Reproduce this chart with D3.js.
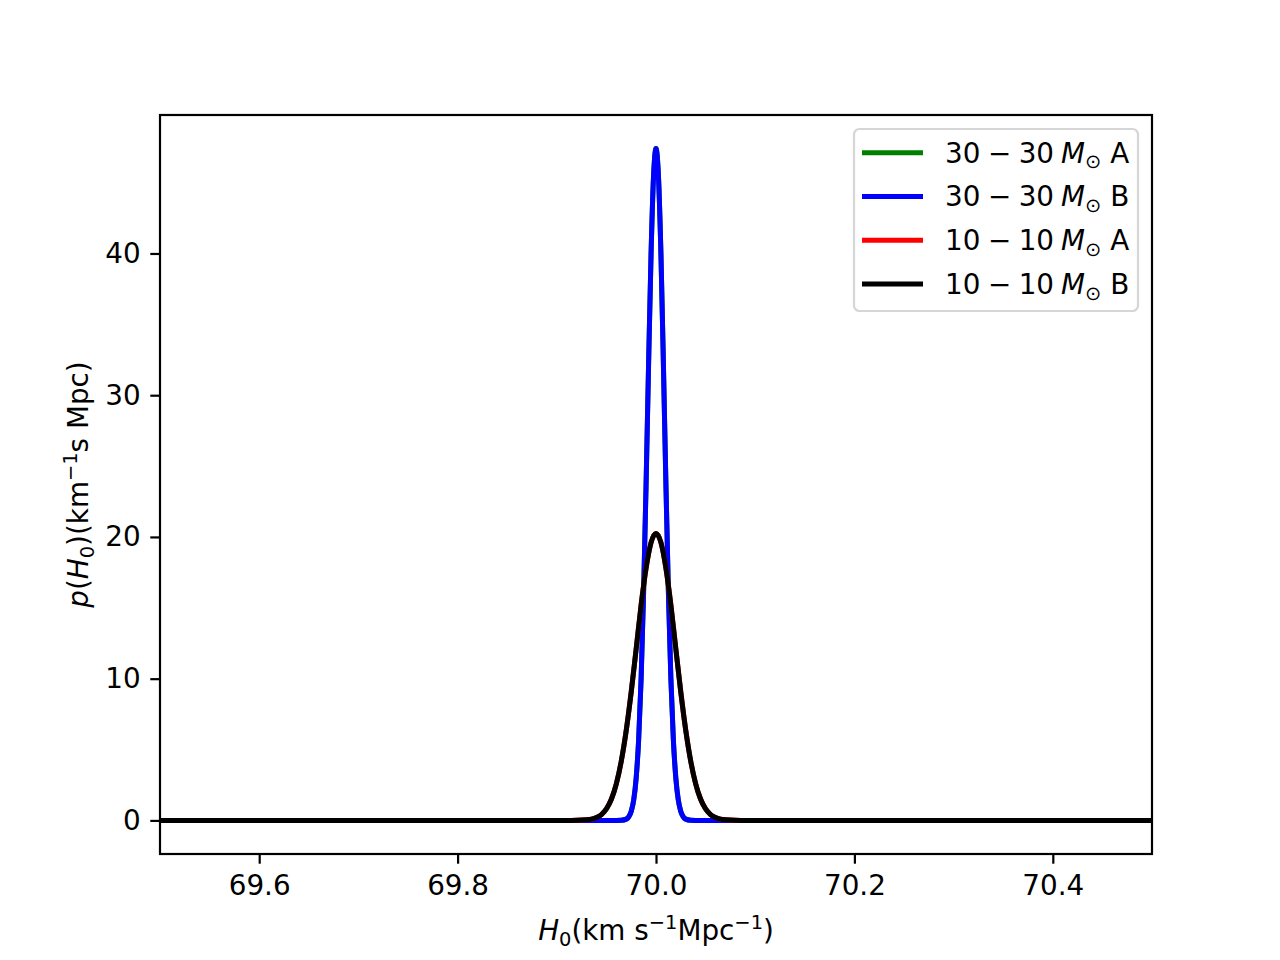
<!DOCTYPE html>
<html>
<head>
<meta charset="utf-8">
<script src="https://cdn.jsdelivr.net/npm/d3@7"></script>
<style>
  body { margin: 0; background: #fff; }
  svg { display: block; }
</style>
</head>
<body>
<script>
// values (A and B sit exactly on top of each other)
const h0Grid30 = [69.5, 69.96, 69.965, 69.97, 69.9725, 69.975, 69.9775, 69.98, 69.9825, 69.985, 69.9875,
  69.99, 69.9925, 69.995, 69.9975, 70.0, 70.0025, 70.005, 70.0075, 70.01, 70.0125, 70.015, 70.0175,
  70.02, 70.0225, 70.025, 70.0275, 70.03, 70.035, 70.04, 70.5];
const p30A = [0, 0, 0.01, 0.09, 0.25, 0.63, 1.43, 2.98, 5.69, 10.0, 16.1,
  23.7, 32.1, 39.9, 45.4, 47.4, 45.4, 39.9, 32.1, 23.7, 16.1, 10.0, 5.69,
  2.98, 1.43, 0.63, 0.25, 0.09, 0.01, 0, 0];
const p30B = [0, 0, 0.01, 0.09, 0.25, 0.63, 1.43, 2.98, 5.69, 10.0, 16.1,
  23.7, 32.1, 39.9, 45.4, 47.4, 45.4, 39.9, 32.1, 23.7, 16.1, 10.0, 5.69,
  2.98, 1.43, 0.63, 0.25, 0.09, 0.01, 0, 0];

const h0Grid10 = [69.5, 69.91, 69.92, 69.93, 69.935, 69.94, 69.945, 69.95, 69.955, 69.96, 69.965, 69.97,
  69.975, 69.98, 69.985, 69.99, 69.995, 70.0, 70.005, 70.01, 70.015, 70.02, 70.025, 70.03, 70.035,
  70.04, 70.045, 70.05, 70.055, 70.06, 70.065, 70.07, 70.08, 70.09, 70.5];
const p10A = [0, 0, 0.005, 0.04, 0.09, 0.20, 0.41, 0.81, 1.49, 2.58, 4.18, 6.35,
  9.05, 12.1, 15.2, 17.8, 19.6, 20.25, 19.6, 17.8, 15.2, 12.1, 9.05, 6.35, 4.18,
  2.58, 1.49, 0.81, 0.41, 0.20, 0.09, 0.04, 0.005, 0, 0];
const p10B = [0, 0, 0.005, 0.04, 0.09, 0.20, 0.41, 0.81, 1.49, 2.58, 4.18, 6.35,
  9.05, 12.1, 15.2, 17.8, 19.6, 20.25, 19.6, 17.8, 15.2, 12.1, 9.05, 6.35, 4.18,
  2.58, 1.49, 0.81, 0.41, 0.20, 0.09, 0.04, 0.005, 0, 0];

const legendMassLo = ["30", "30", "10", "10"];
const legendMassHi = ["30", "30", "10", "10"];
const legendRun = ["A", "B", "A", "B"];
const lineColors = ["green", "blue", "red", "black"];

const xTicks = [69.6, 69.8, 70.0, 70.2, 70.4];
const yTicks = [0, 10, 20, 30, 40];

const width = 1280, height = 960;
const plotLeft = 160, plotRight = 1152, plotTop = 115, plotBottom = 854;
const fs = 27.8;
const lw = 5;
const font = "'DejaVu Sans', sans-serif";

const series = [
  { x: h0Grid30, y: p30A },
  { x: h0Grid30, y: p30B },
  { x: h0Grid10, y: p10A },
  { x: h0Grid10, y: p10B }
];

// matplotlib-style 5% margin on y
const allY = series.flatMap(s => s.y);
const yMin = d3.min(allY), yMax = d3.max(allY);
const pad = (yMax - yMin) * 0.05;

const x = d3.scaleLinear().domain([69.5, 70.5]).range([plotLeft, plotRight]);
const y = d3.scaleLinear().domain([yMin - pad, yMax + pad]).range([plotBottom, plotTop]);

const svg = d3.select("body").append("svg")
    .attr("width", width)
    .attr("height", height)
    .style("font-family", font);

svg.append("defs").append("clipPath")
    .attr("id", "plot-clip")
    .append("rect")
    .attr("x", plotLeft).attr("y", plotTop)
    .attr("width", plotRight - plotLeft).attr("height", plotBottom - plotTop);

const line = d3.line()
    .x(d => x(d[0]))
    .y(d => y(d[1]))
    .curve(d3.curveMonotoneX);

svg.append("g")
    .attr("clip-path", "url(#plot-clip)")
    .selectAll("path")
    .data(series)
    .join("path")
    .attr("fill", "none")
    .attr("stroke", (d, i) => lineColors[i])
    .attr("stroke-width", lw)
    .attr("stroke-linejoin", "round")
    .attr("stroke-linecap", "square")
    .attr("d", s => line(s.x.map((v, i) => [v, s.y[i]])));

// axes
const xAxis = svg.append("g")
    .attr("transform", `translate(0,${plotBottom})`)
    .call(d3.axisBottom(x).tickValues(xTicks).tickFormat(d3.format(".1f"))
      .tickSize(9.7).tickPadding(12));
const yAxis = svg.append("g")
    .attr("transform", `translate(${plotLeft},0)`)
    .call(d3.axisLeft(y).tickValues(yTicks).tickFormat(d3.format("d"))
      .tickSize(9.7).tickPadding(9.7));

[xAxis, yAxis].forEach(g => {
  g.select(".domain").remove();
  g.selectAll(".tick line").attr("stroke", "#000").attr("stroke-width", 2.2);
  g.selectAll(".tick text").attr("fill", "#000")
      .style("font-size", fs + "px").style("font-family", font);
});

svg.append("rect")
    .attr("x", plotLeft).attr("y", plotTop)
    .attr("width", plotRight - plotLeft).attr("height", plotBottom - plotTop)
    .attr("fill", "none")
    .attr("stroke", "#000")
    .attr("stroke-width", 2.2);

// rich text helper: segments of {t, it, sub, sup, dx}
function richText(sel, segs, size) {
  let shift = 0;
  segs.forEach(s => {
    const target = s.sub ? size * 0.2 : s.sup ? -size * 0.4 : 0;
    const ts = sel.append("tspan")
        .text(s.t)
        .style("font-size", (s.sub || s.sup ? size * 0.7 : size) + "px");
    if (s.it) ts.style("font-style", "italic");
    if (s.dx) ts.attr("dx", s.dx);
    if (target !== shift) { ts.attr("dy", target - shift); shift = target; }
  });
  if (shift !== 0) sel.append("tspan").attr("dy", -shift).text("\u200b");
}

const xLabel = svg.append("text")
    .attr("x", (plotLeft + plotRight) / 2)
    .attr("y", 940)
    .attr("text-anchor", "middle")
    .attr("fill", "#000");
richText(xLabel, [
  { t: "H", it: true }, { t: "0", sub: true }, { t: "(km s" }, { t: "\u22121", sup: true },
  { t: "Mpc" }, { t: "\u22121", sup: true }, { t: ")" }
], fs);

const yLabel = svg.append("text")
    .attr("transform", `translate(88,${(plotTop + plotBottom) / 2}) rotate(-90)`)
    .attr("text-anchor", "middle")
    .attr("fill", "#000");
richText(yLabel, [
  { t: "p", it: true }, { t: "(" }, { t: "H", it: true }, { t: "0", sub: true }, { t: ")(km" },
  { t: "\u22121", sup: true }, { t: "s Mpc)" }
], fs);

// legend
const legend = svg.append("g");
legend.append("rect")
    .attr("x", 854).attr("y", 129)
    .attr("width", 284).attr("height", 182)
    .attr("rx", 5.5)
    .attr("fill", "#fff")
    .attr("fill-opacity", 0.8)
    .attr("stroke", "#d6d6d6")
    .attr("stroke-width", 2.2);

const rowY = d3.scaleLinear().domain([0, 3]).range([152.7, 284]);
const rows = legend.selectAll("g.row")
    .data(lineColors)
    .join("g")
    .attr("class", "row")
    .attr("transform", (d, i) => `translate(0,${rowY(i)})`);

rows.append("line")
    .attr("x1", 862).attr("x2", 923)
    .attr("stroke", d => d)
    .attr("stroke-width", lw);

rows.each(function(d, i) {
  const t = d3.select(this).append("text")
      .attr("x", 945)
      .attr("y", fs * 0.36)
      .attr("fill", "#000");
  richText(t, [
    { t: legendMassLo[i] }, { t: "\u2212", dx: 7.5 }, { t: legendMassHi[i], dx: 7.5 },
    { t: "M", it: true, dx: 7 }, { t: "\u2299", sub: true }, { t: " " + legendRun[i] }
  ], fs);
});
</script>
</body>
</html>
